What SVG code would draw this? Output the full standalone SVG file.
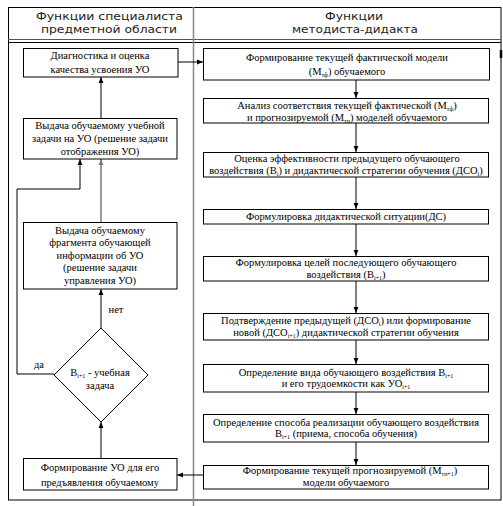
<svg xmlns="http://www.w3.org/2000/svg" width="503" height="506" viewBox="0 0 503 506">
<defs>
<marker id="ah" viewBox="0 0 10 10" refX="10" refY="5" markerWidth="6" markerHeight="6" markerUnits="userSpaceOnUse" orient="auto">
<path d="M0,1 L10,5 L0,9 z" fill="#000"/>
</marker>
<marker id="ahg" viewBox="0 0 10 10" refX="10" refY="5" markerWidth="6" markerHeight="6" markerUnits="userSpaceOnUse" orient="auto">
<path d="M0,1 L10,5 L0,9 z" fill="#777"/>
</marker>
</defs>
<style>
.box{fill:#fff;stroke:#000;stroke-width:1}
.t{font-size:10.5px;fill:#000;text-anchor:middle}
.h{font-size:11px;fill:#222;text-anchor:middle}
.s{font-size:6px}
.c{fill:none;stroke:#000;stroke-width:1}
.cg{fill:none;stroke:#777;stroke-width:1.5}
.frame{fill:none;stroke:#000;stroke-width:1}
</style>
<rect width="503" height="506" fill="#fff"/>
<g id="frame" font-family="DejaVu Sans, Liberation Sans, sans-serif">
<rect class="frame" x="8.5" y="7.5" width="492.5" height="492.5"/>
<line x1="8" y1="39.5" x2="501" y2="39.5" stroke="#555" stroke-width="1"/>
<line x1="8" y1="42.5" x2="501" y2="42.5" stroke="#000" stroke-width="1"/>
<line x1="193.5" y1="7" x2="193.5" y2="506" stroke="#888" stroke-width="1.5"/>
<line x1="501" y1="50" x2="501" y2="58" stroke="#000" stroke-width="2.5"/>
<text class="h" x="109.5" y="20" textLength="147" lengthAdjust="spacingAndGlyphs">Функции специалиста</text>
<text class="h" x="109" y="33" textLength="136" lengthAdjust="spacingAndGlyphs">предметной области</text>
<text class="h" x="354" y="20" textLength="58" lengthAdjust="spacingAndGlyphs">Функции</text>
<text class="h" x="355" y="33" textLength="126" lengthAdjust="spacingAndGlyphs">методиста-дидакта</text>
</g>
<g id="connectors" font-family="Liberation Serif, DejaVu Serif, serif">
<line class="c" x1="178" y1="62" x2="203" y2="62" marker-end="url(#ah)"/>
<line class="c" x1="101" y1="118" x2="101" y2="77" marker-end="url(#ah)"/>
<polyline class="c" points="54,374 17,374 17,189 80,189 80,159" marker-end="url(#ah)"/>
<line class="cg" x1="101" y1="222" x2="101" y2="159" marker-end="url(#ahg)"/>
<line class="c" x1="101" y1="328" x2="101" y2="289" marker-end="url(#ah)"/>
<line class="c" x1="101" y1="458" x2="101" y2="422" marker-end="url(#ah)"/>
<line class="c" x1="203" y1="475" x2="177" y2="475" marker-end="url(#ah)"/>
<line class="c" x1="356" y1="80" x2="356" y2="98" marker-end="url(#ah)"/>
<line class="c" x1="356" y1="123" x2="356" y2="152" marker-end="url(#ah)"/>
<line class="c" x1="356" y1="177" x2="356" y2="209" marker-end="url(#ah)"/>
<line class="c" x1="356" y1="224" x2="356" y2="256" marker-end="url(#ah)"/>
<line class="c" x1="356" y1="281" x2="356" y2="313" marker-end="url(#ah)"/>
<line class="c" x1="356" y1="340" x2="356" y2="364" marker-end="url(#ah)"/>
<line class="c" x1="356" y1="392" x2="356" y2="414" marker-end="url(#ah)"/>
<line class="c" x1="356" y1="442" x2="356" y2="465" marker-end="url(#ah)"/>
<text class="t" x="116" y="313">нет</text>
<text class="t" x="39" y="368">да</text>
</g>
<g font-family="Liberation Serif, DejaVu Serif, serif">
<g id="L1">
<rect class="box" x="23.5" y="48.5" width="154.5" height="28.5"/>
<text class="t" x="100" y="59">Диагностика и оценка</text>
<text class="t" x="100" y="73">качества усвоения УО</text>
</g>
<g id="L2">
<rect class="box" x="23.5" y="118.5" width="153.5" height="40.5"/>
<text class="t" x="100" y="128.5">Выдача обучаемому учебной</text>
<text class="t" x="100" y="141.5">задачи на УО (решение задачи</text>
<text class="t" x="100" y="154.5">отображения УО)</text>
</g>
<g id="L3">
<rect class="box" x="23.5" y="222.5" width="153.5" height="66.5"/>
<text class="t" x="100" y="233.5">Выдача обучаемому</text>
<text class="t" x="100" y="246">фрагмента обучающей</text>
<text class="t" x="100" y="258.5">информации об УО</text>
<text class="t" x="100" y="271">(решение задачи</text>
<text class="t" x="100" y="283.5">управления УО)</text>
</g>
<g id="D1">
<polygon class="box" points="101,328 148,375 101,422 54,375"/>
<text class="t" x="100" y="375.5">B<tspan class="s" dy="2">i+1</tspan><tspan dy="-2"> - учебная</tspan></text>
<text class="t" x="100" y="388.5">задача</text>
</g>
<g id="L4">
<rect class="box" x="23.5" y="458.5" width="153.5" height="31.5"/>
<text class="t" x="100" y="470.5">Формирование УО для его</text>
<text class="t" x="100" y="485.5">предъявления обучаемому</text>
</g>
<g id="R1">
<rect class="box" x="203.5" y="48.5" width="286" height="31.5"/>
<text class="t" x="347" y="60.5">Формирование текущей фактической модели</text>
<text class="t" x="347" y="74.5">(M<tspan class="s" dy="2">тф</tspan><tspan dy="-2">) обучаемого</tspan></text>
</g>
<g id="R2">
<rect class="box" x="203.5" y="98.5" width="285" height="24.5"/>
<text class="t" x="347" y="108.5">Анализ соответствия текущей фактической (M<tspan class="s" dy="2">тф</tspan><tspan dy="-2">)</tspan></text>
<text class="t" x="347" y="120.5">и прогнозируемой (M<tspan class="s" dy="2">тп</tspan><tspan dy="-2">) моделей обучаемого</tspan></text>
</g>
<g id="R3">
<rect class="box" x="203.5" y="152.5" width="285" height="24.5"/>
<text class="t" x="347" y="161.5">Оценка эффективности предыдущего обучающего</text>
<text class="t" x="346" y="173.5">воздействия (B<tspan class="s" dy="2">i</tspan><tspan dy="-2">) и дидактической стратегии обучения (ДСО</tspan><tspan class="s" dy="2">i</tspan><tspan dy="-2">)</tspan></text>
</g>
<g id="R4">
<rect class="box" x="203.5" y="209.5" width="285" height="14.5"/>
<text class="t" x="346" y="220">Формулировка дидактической ситуации(ДС)</text>
</g>
<g id="R5">
<rect class="box" x="203.5" y="256.5" width="285" height="24.5"/>
<text class="t" x="346" y="265.5">Формулировка целей последующего обучающего</text>
<text class="t" x="346" y="277.5">воздействия (B<tspan class="s" dy="2">i+1</tspan><tspan dy="-2">)</tspan></text>
</g>
<g id="R6">
<rect class="box" x="203.5" y="313.5" width="285" height="26.5"/>
<text class="t" x="346" y="323.5">Подтверждение предыдущей (ДСО<tspan class="s" dy="2">i</tspan><tspan dy="-2">) или формирование</tspan></text>
<text class="t" x="346" y="335.5">новой (ДСО<tspan class="s" dy="2">i+1</tspan><tspan dy="-2">) дидактической стратегии обучения</tspan></text>
</g>
<g id="R7">
<rect class="box" x="203.5" y="364.5" width="285" height="27.5"/>
<text class="t" x="346" y="375.5">Определение вида обучающего воздействия B<tspan class="s" dy="2">i+1</tspan></text>
<text class="t" x="346" y="387">и его трудоемкости как УО<tspan class="s" dy="2">i+1</tspan></text>
</g>
<g id="R8">
<rect class="box" x="203.5" y="414.5" width="285" height="27.5"/>
<text class="t" x="346" y="425.5">Определение способа реализации обучающего воздействия</text>
<text class="t" x="346" y="437">B<tspan class="s" dy="2">i+1</tspan><tspan dy="-2"> (приема, способа обучения)</tspan></text>
</g>
<g id="R9">
<rect class="box" x="203.5" y="465.5" width="285" height="23.5"/>
<text class="t" x="350" y="474">Формирование текущей прогнозируемой (M<tspan class="s" dy="2">тп+1</tspan><tspan dy="-2">)</tspan></text>
<text class="t" x="346" y="486">модели обучаемого</text>
</g>
</g>
</svg>
